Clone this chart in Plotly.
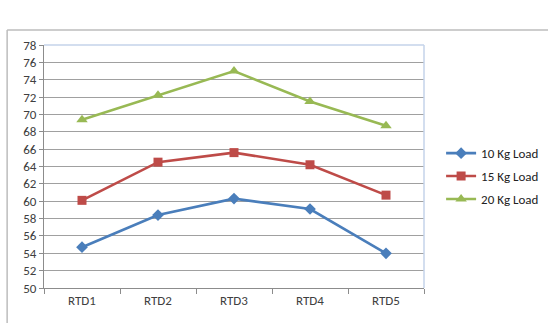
import plotly.graph_objects as go

categories = ["RTD1", "RTD2", "RTD3", "RTD4", "RTD5"]
load_10kg = [54.7, 58.4, 60.3, 59.1, 54.0]
load_15kg = [60.1, 64.5, 65.6, 64.2, 60.7]
load_20kg = [69.4, 72.2, 75.0, 71.5, 68.7]
y_ticks = list(range(50, 80, 2))

series = [
    ("10 Kg Load", load_10kg, "#4A7EBB", "diamond", 9),
    ("15 Kg Load", load_15kg, "#BE4B48", "square", 9),
    ("20 Kg Load", load_20kg, "#98B954", "triangle-up", 10),
]

fig = go.Figure()
for name, vals, color, symbol, size in series:
    fig.add_trace(go.Scatter(
        x=categories, y=vals, name=name, legendgroup=name,
        mode="lines+markers",
        line=dict(color=color, width=2.6),
        marker=dict(symbol=symbol, size=size, color=color),
    ))

font = "Carlito, Calibri, 'Open Sans', 'Liberation Sans', Arial, sans-serif"
fig.update_layout(
    width=548, height=323,
    margin=dict(l=44, r=124, t=45, b=35, autoexpand=False),
    paper_bgcolor="white", plot_bgcolor="white",
    font=dict(family=font, size=13, color="#404040"),
    showlegend=True,
    legend=dict(x=1.045, y=0.46, xanchor="left", yanchor="middle",
                font=dict(size=13, color="#222222"),
                tracegroupgap=3, itemwidth=30, bgcolor="rgba(0,0,0,0)"),
    xaxis=dict(
        type="category", range=[-0.5, 4.5],
        showgrid=False, showline=True, linecolor="#8c8c8c", linewidth=1,
        ticks="outside", tickson="boundaries", ticklen=5, tickcolor="#8c8c8c",
        tickfont=dict(size=13, color="#404040"), mirror=False,
    ),
    yaxis=dict(
        range=[50, 78], tickvals=y_ticks, ticktext=[str(v) for v in y_ticks],
        showgrid=True, gridcolor="#a0a0a0", gridwidth=1.3,
        showline=True, linecolor="#8c8c8c", linewidth=1,
        ticks="outside", ticklen=4, tickcolor="#8c8c8c",
        tickfont=dict(size=13, color="#404040"), zeroline=False,
    ),
    shapes=[
        # light plot-area frame on the top and right
        dict(type="line", xref="paper", yref="paper", x0=0, x1=1, y0=1, y1=1,
             line=dict(color="#c5d3ea", width=1.5)),
        dict(type="line", xref="paper", yref="paper", x0=1, x1=1, y0=0, y1=1,
             line=dict(color="#c5d3ea", width=1.5)),
        # outer chart frame
        dict(type="line", xref="paper", yref="paper", x0=-0.097, x1=1.33,
             y0=1.062, y1=1.062, line=dict(color="#bdbdbd", width=1.5)),
        dict(type="line", xref="paper", yref="paper", x0=-0.097, x1=-0.097,
             y0=-0.2, y1=1.062, line=dict(color="#bdbdbd", width=1.5)),
    ],
)

fig.write_html("out.html")
